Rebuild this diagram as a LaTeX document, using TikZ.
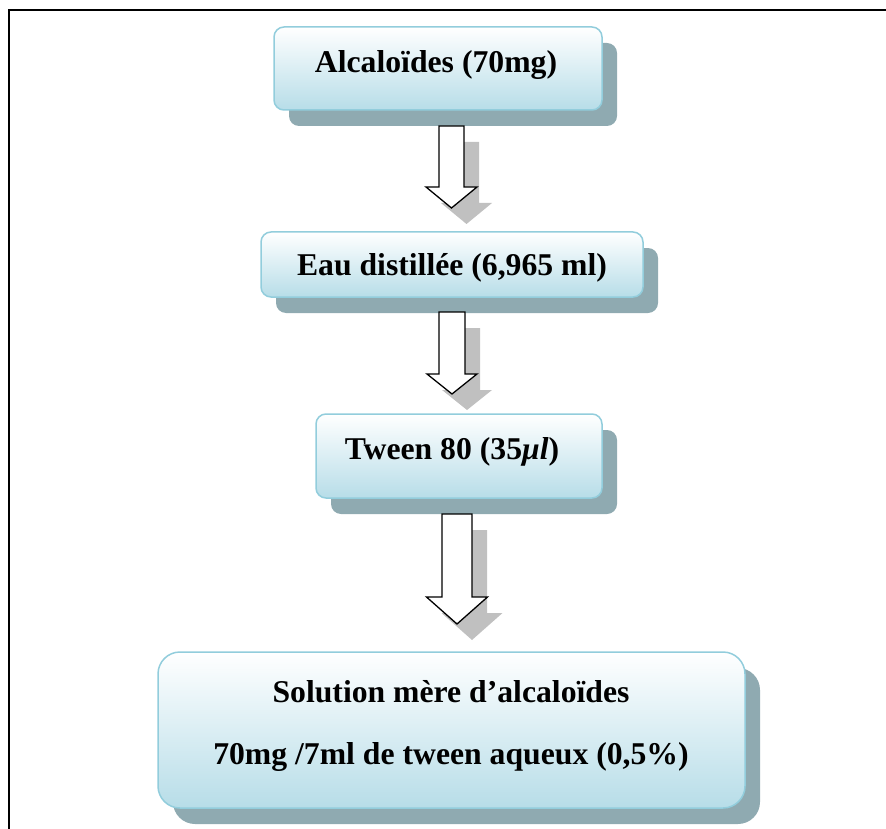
\documentclass[tikz,border=0pt]{standalone}
\usepackage{fontspec}
\setmainfont{Liberation Serif}
\usetikzlibrary{shadows}
\definecolor{boxedge}{RGB}{146,205,220}
\definecolor{boxbot}{RGB}{183,221,232}
\definecolor{boxshadow}{RGB}{143,170,177}
\definecolor{arrshadow}{RGB}{192,192,192}
% cx, top, headstart, tip, half shaft, half head
\newcommand\myblockarrow[6]{%
  \fill[arrshadow,shift={(15,16)}] (#1-#5,#2) -- (#1+#5,#2) -- (#1+#5,#3) -- (#1+#6,#3) -- (#1,#4) -- (#1-#6,#3) -- (#1-#5,#3) -- cycle;
  \draw[fill=white,line width=1.3pt,line join=miter] (#1-#5,#2) -- (#1+#5,#2) -- (#1+#5,#3) -- (#1+#6,#3) -- (#1,#4) -- (#1-#6,#3) -- (#1-#5,#3) -- cycle;
}
\tikzset{
  stepbox/.style={rounded corners=10pt, draw=boxedge, line width=1.5pt,
    top color=white, bottom color=boxbot, inner sep=0pt,
    general shadow={fill=boxshadow, shadow xshift=15pt, shadow yshift=-16pt}},
  lbl/.style={anchor=base, inner sep=0pt, font=\fontsize{31.7}{38}\selectfont\bfseries}
}
\begin{document}
\begin{tikzpicture}[x=1pt,y=-1pt]
\useasboundingbox (0,0) rectangle (886,829);
\draw[line width=1.6pt] (9,829) -- (9,10) -- (886,10);

% boxes
\node[stepbox, minimum width=328pt, minimum height=83pt] (b1) at (438,68.5) {};
\node[stepbox, minimum width=382pt, minimum height=65pt] (b2) at (452,264.5) {};
\node[stepbox, minimum width=286pt, minimum height=84pt] (b3) at (459,456) {};
\node[stepbox, rounded corners=22pt, minimum width=587pt, minimum height=156pt] (b4) at (451.5,730) {};

% texts
\node[lbl] (t1) at (436,73) {Alcaloïdes (70mg)};
\node[lbl] (t2) at (452,275) {Eau distillée (6,965 ml)};
\node[lbl] (t3) at (452,459) {Tween 80 (35\textit{μl})};
\node[lbl] (t4) at (451,702) {Solution mère d’alcaloïdes};
\node[lbl] (t5) at (451,764) {70mg /7ml de tween aqueux (0,5\%)};

% arrows
\myblockarrow{451.5}{126}{187}{208}{12.5}{25.5}
\myblockarrow{452}{312}{374}{394}{13}{25}
\myblockarrow{457}{514}{597}{624}{15}{30.5}
\end{tikzpicture}
\end{document}
